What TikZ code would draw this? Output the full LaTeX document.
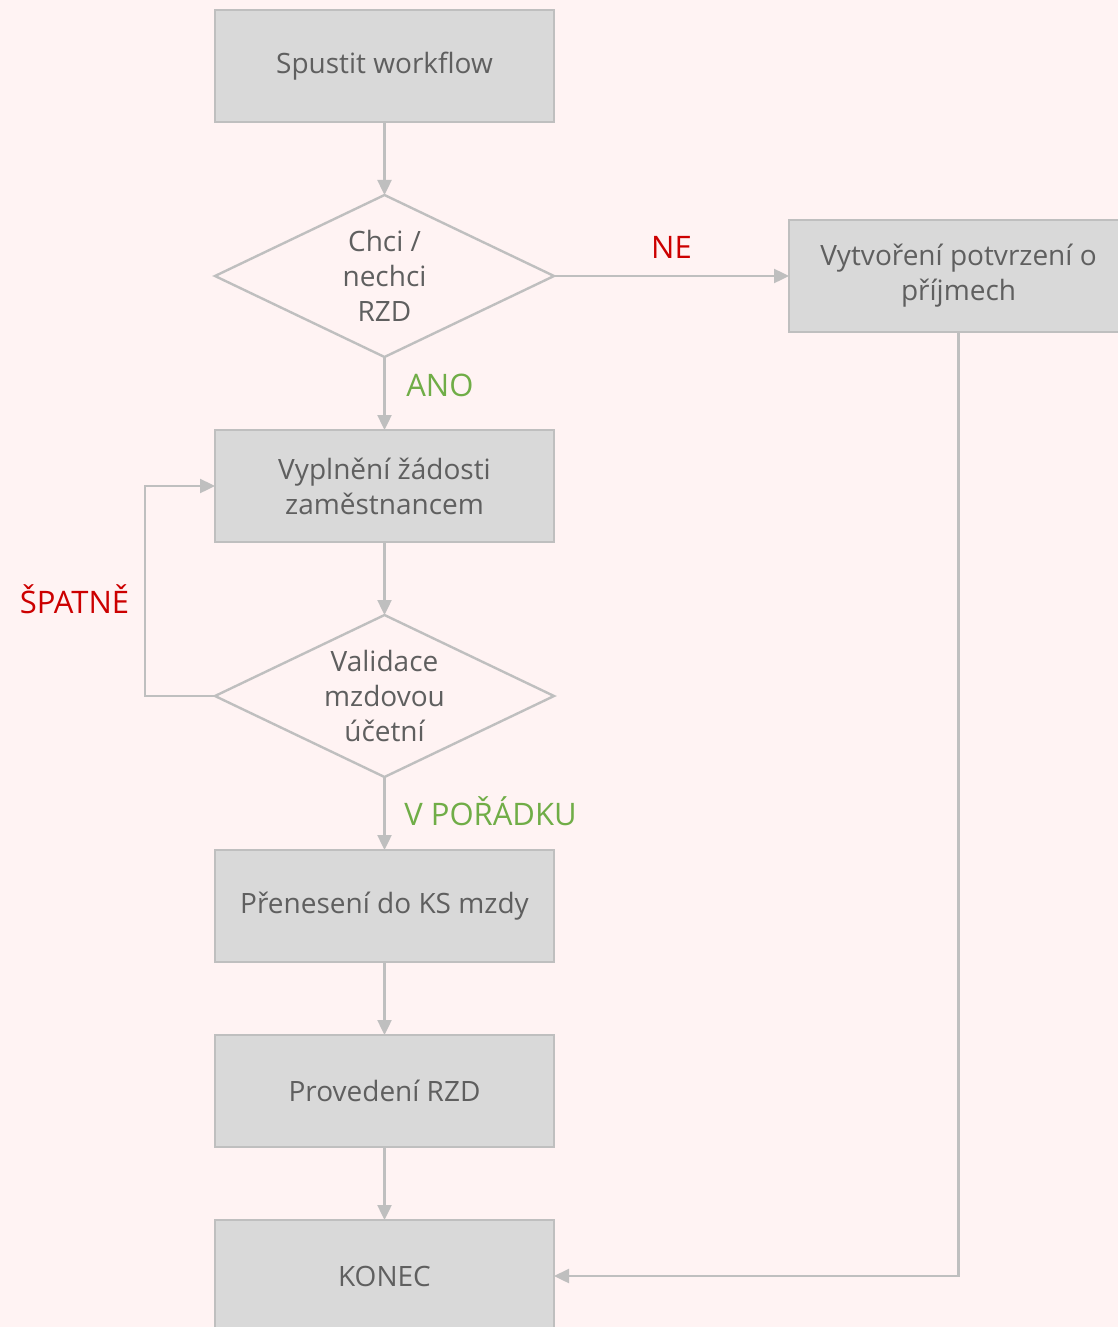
\documentclass[tikz,border=0pt]{standalone}
\usepackage{fontspec}
\setmainfont{Open Sans}
\usepackage{tikz}
\usetikzlibrary{shapes.geometric, arrows.meta, positioning, calc}
\definecolor{bg-pink}{RGB}{255,243,243}
\definecolor{box-fill}{RGB}{217,217,217}
\definecolor{box-line}{RGB}{191,191,191}
\definecolor{text-gray}{RGB}{95,95,95}
\definecolor{flag-red}{RGB}{204,0,0}
\definecolor{flag-green}{RGB}{112,173,71}

\begin{document}
\begin{tikzpicture}[
    x=0.5pt, y=-0.5pt,
    node distance=36.5pt,
    font=\fontsize{14pt}{17.5pt}\selectfont,
    task/.style={rectangle, draw=box-line, line width=1.2pt, fill=box-fill, outer sep=0pt, minimum width=169.5pt, minimum height=56pt, align=center, text=text-gray},
    decision/.style={diamond, aspect=2.1, draw=box-line, line width=1.2pt, outer sep=0pt, minimum width=169.5pt, minimum height=81pt, inner sep=0pt, align=center, text=text-gray},
    arrow/.style={-{Triangle[length=7.5pt, width=7pt]}, draw=box-line, line width=1.2pt},
    yes/.style={text=flag-green, font=\fontsize{15.5pt}{18pt}\selectfont},
    no/.style={text=flag-red, font=\fontsize{15.5pt}{18pt}\selectfont}
]

% Canvas
\fill[bg-pink] (0,0) rectangle (1118,1327);
\useasboundingbox (0,0) rectangle (1118,1327);
\clip (0,0) rectangle (1118,1327);

% Main flow
\node[task] (start) at (384.5,66) {Spustit workflow};
\node[decision, below=of start] (want) {Chci /\\nechci\\RZD};
\node[task, below=of want] (fill) {Vyplnění žádosti\\zaměstnancem};
\node[decision, below=of fill] (valid) {Validace\\mzdovou\\účetní};
\node[task, below=of valid] (transfer) {Přenesení do KS mzdy};
\node[task, below=of transfer] (run) {Provedení RZD};
\node[task, below=of run] (finish) {KONEC};

% Side branch
\node[task, right=117.5pt of want] (confirm) {Vytvoření potvrzení o\\příjmech};

% Connectors
\draw[arrow] (start) -- (want);
\draw[arrow] (want) -- (fill) node[midway, right=7pt, yshift=4pt, yes] {ANO};
\draw[arrow] (want) -- (confirm) node[midway, above=5pt, no] {NE};
\draw[arrow] (fill) -- (valid);
\draw[arrow] (valid) -- (transfer) node[midway, right=6pt, yshift=1pt, yes] {V POŘÁDKU};
\draw[arrow] (transfer) -- (run);
\draw[arrow] (run) -- (finish);
\draw[arrow] (valid.west) -| ([xshift=-35pt]fill.west) node[pos=0.75, left=4pt, yshift=-4pt, no] {ŠPATNĚ} -- (fill.west);
\draw[arrow] (confirm.south) |- (finish.east);

\end{tikzpicture}
\end{document}
